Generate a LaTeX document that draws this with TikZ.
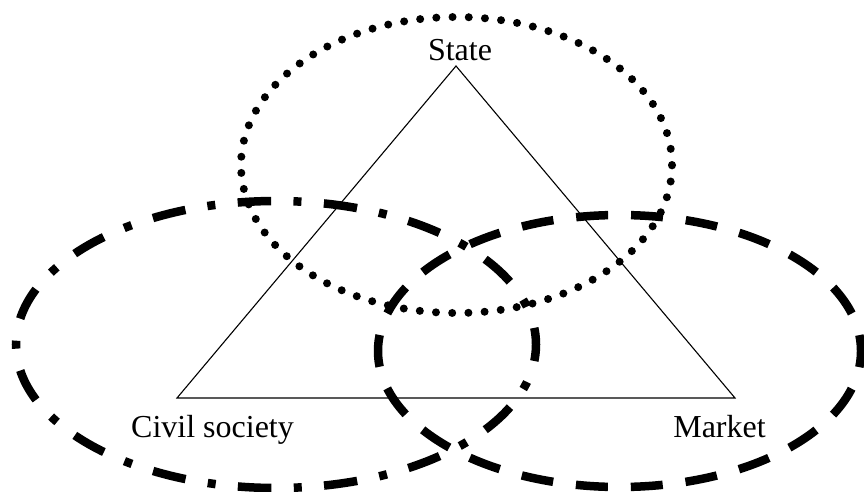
\documentclass[tikz,border=0pt]{standalone}
\usepackage{fontspec}
\setmainfont{Liberation Serif}
\begin{document}
\begin{tikzpicture}[x=1pt,y=-1pt,
  label/.style={font=\fontsize{32}{36}\selectfont, inner sep=0pt, anchor=base},
  tri/.style={draw=black, line width=1.1pt, line join=miter},
  dotline/.style={draw=black, line width=8pt, line cap=round, dash pattern=on 0pt off 16.22pt},
  dashline/.style={draw=black, line width=8.5pt, line cap=butt, dash pattern=on 32pt off 22.96pt, dash phase=16pt},
  dashdotline/.style={draw=black, line width=8.5pt, line cap=butt, dash pattern=on 33.5pt off 22.5pt on 8pt off 22.3pt, dash phase=16.75pt}
]
\useasboundingbox (0,0) rectangle (864,492);
% triangle vertices
\coordinate (A) at (456,66);
\coordinate (B) at (177,398);
\coordinate (C) at (735,398);
\draw[tri] (A) -- (B) -- (C) -- cycle;
% ellipses
\path[dotline] (456.5,165) ellipse [x radius=215.5pt, y radius=148pt];
\path[dashdotline] (276,344.5) ellipse [x radius=260pt, y radius=143.5pt];
\path[dashline] (619.5,351) ellipse [x radius=241.5pt, y radius=136pt];
% labels
\node[label] (state) at (460,61) {State};
\node[label] (civil) at (212.5,437) {Civil society};
\node[label] (market) at (719.5,437) {Market};
\end{tikzpicture}
\end{document}
